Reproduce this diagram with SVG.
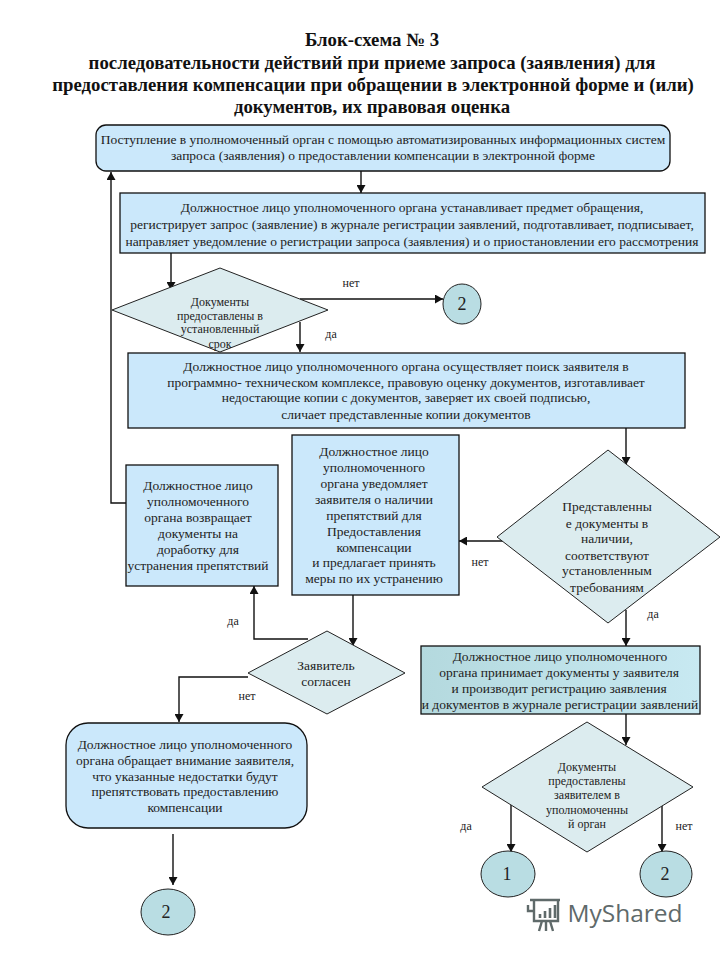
<svg xmlns="http://www.w3.org/2000/svg" width="720" height="960" viewBox="0 0 720 960">
<style>
text{font-family:"Liberation Serif","Times New Roman",serif;fill:#222;text-anchor:middle;font-size:13.5px}
.t{font-weight:bold;font-size:18.8px;fill:#111}
.box{fill:#cbe8fb;stroke:#111;stroke-width:1.3}
.dia{fill:#dcecef;stroke:#222;stroke-width:1}
.cir{fill:#b9dde3;stroke:#222;stroke-width:1}
.n{font-size:18px}
.c{fill:none;stroke:#111;stroke-width:1.4;marker-end:url(#a)}
.l{font-size:12px}
.e{font-size:12px}
</style>
<defs>
<marker id="a" markerUnits="userSpaceOnUse" markerWidth="9" markerHeight="9" refX="8" refY="4.5" orient="auto"><path d="M0 0L8 4.5L0 9z" fill="#111"/></marker>
<linearGradient id="g" x1="0" x2="1" y1="0" y2="0"><stop offset="0" stop-color="#b4d9de"/><stop offset="1" stop-color="#c8e9f2"/></linearGradient>
</defs>
<rect width="720" height="960" fill="#fff"/>
<g id="title">
<text class="t" x="372" y="46">Блок-схема № 3</text>
<text class="t" x="372" y="69">последовательности действий при приеме запроса (заявления) для</text>
<text class="t" x="373" y="91">предоставления компенсации  при обращении в электронной форме и (или)</text>
<text class="t" x="372" y="113">документов, их правовая оценка</text>
</g>
<g id="connectors">
<path class="c" d="M361 171V193"/>
<path class="c" d="M171 253V290"/>
<path class="c" d="M300 299H443"/>
<path class="c" d="M300 322V352"/>
<path class="c" d="M126 503H111V172"/>
<path class="c" d="M626 428V465"/>
<path class="c" d="M503 541H459"/>
<path class="c" d="M626 610V646"/>
<path class="c" d="M626 714V745"/>
<path class="c" d="M353 595V646"/>
<path class="c" d="M308 639H254V586"/>
<path class="c" d="M248 677H179V722"/>
<path class="c" d="M173 834V885"/>
<path class="c" d="M511 805V852"/>
<path class="c" d="M662 805V852"/>
</g>
<g id="n1"><rect class="box" x="96" y="125" width="574" height="46" rx="10"/>
<text x="383" y="144">Поступление в уполномоченный орган с помощью  автоматизированных информационных систем</text>
<text x="383" y="160">запроса (заявления) о предоставлении компенсации в электронной форме</text></g>
<g id="n2"><rect class="box" x="120" y="193" width="585" height="60"/>
<text x="412" y="212">Должностное лицо уполномоченного органа устанавливает предмет обращения,</text>
<text x="412" y="229">регистрирует запрос (заявление) в журнале регистрации заявлений, подготавливает, подписывает,</text>
<text x="412" y="246">направляет уведомление о регистрации запроса (заявления)  и о приостановлении его рассмотрения</text></g>
<g id="d1"><path class="dia" d="M112 310L220 268L328 310L220 352z"/>
<text x="220" y="306" class="l">Документы</text>
<text x="220" y="320" class="l">предоставлены  в</text>
<text x="220" y="333" class="l">установленный</text>
<text x="220" y="348" class="l">срок</text></g>
<g id="n3"><rect class="box" x="128" y="353" width="557" height="75"/>
<text x="406" y="371">Должностное лицо уполномоченного органа осуществляет поиск заявителя в</text>
<text x="406" y="387">программно- техническом комплексе, правовую оценку документов, изготавливает</text>
<text x="406" y="402">недостающие копии с документов, заверяет их  своей подписью,</text>
<text x="406" y="419">сличает представленные  копии документов</text></g>
<g id="c2a"><ellipse class="cir" cx="462" cy="304" rx="19" ry="20"/><text class="n" x="462" y="310">2</text></g>
<g id="n4"><rect class="box" x="126" y="465" width="152" height="121"/>
<text x="198" y="490">Должностное лицо</text>
<text x="198" y="506">уполномоченного</text>
<text x="198" y="522">органа возвращает</text>
<text x="198" y="538">документы на</text>
<text x="198" y="554">доработку  для</text>
<text x="198" y="570">устранения  препятствий</text></g>
<g id="n5"><rect class="box" x="292" y="435" width="167" height="160"/>
<text x="374" y="456">Должностное лицо</text>
<text x="374" y="472">уполномоченного</text>
<text x="374" y="488">органа уведомляет</text>
<text x="374" y="504">заявителя о наличии</text>
<text x="374" y="520">препятствий для</text>
<text x="374" y="536">Предоставления</text>
<text x="374" y="552">компенсации</text>
<text x="374" y="567">и предлагает принять</text>
<text x="374" y="583">меры по  их устранению</text></g>
<g id="d2"><path class="dia" d="M497 537L608 450L720 537L608 623z"/>
<text x="607" y="511">Представленны</text>
<text x="607" y="528">е документы в</text>
<text x="607" y="543">наличии,</text>
<text x="607" y="560">соответствуют</text>
<text x="607" y="575">установленным</text>
<text x="607" y="592">требованиям</text></g>
<g id="n6"><rect x="421" y="646" width="279" height="68" fill="url(#g)" stroke="#111" stroke-width="1.3"/>
<text x="560" y="661">Должностное лицо уполномоченного</text>
<text x="559" y="677">органа принимает документы у заявителя</text>
<text x="559" y="693">и производит  регистрацию заявления</text>
<text x="560" y="709">и документов в журнале регистрации  заявлений</text></g>
<g id="d3"><path class="dia" d="M248 673L327 631L405 673L327 714z"/>
<text x="326" y="670">Заявитель</text>
<text x="326" y="686">согласен</text></g>
<g id="n7"><rect class="box" x="66" y="723" width="241" height="105" rx="22"/>
<text x="185" y="749">Должностное лицо уполномоченного</text>
<text x="185" y="765">органа обращает  внимание заявителя,</text>
<text x="185" y="781">что указанные недостатки будут</text>
<text x="185" y="796">препятствовать предоставлению</text>
<text x="185" y="812">компенсации</text></g>
<g id="d4"><path class="dia" d="M482 787L587 722L693 787L587 852z"/>
<text x="587" y="771" class="l">Документы</text>
<text x="587" y="785" class="l">предоставлены</text>
<text x="587" y="799" class="l">заявителем в</text>
<text x="587" y="814" class="l">уполномоченны</text>
<text x="587" y="828" class="l">й орган</text></g>
<g id="c1"><ellipse class="cir" cx="508" cy="874" rx="27" ry="23"/><text class="n" x="507" y="880">1</text></g>
<g id="c2b"><ellipse class="cir" cx="666" cy="874" rx="26" ry="23"/><text class="n" x="665" y="880">2</text></g>
<g id="c2c"><ellipse class="cir" cx="168" cy="912" rx="27" ry="23"/><text class="n" x="166" y="918">2</text></g>
<g id="labels">
<text class="e" x="351" y="287">нет</text>
<text class="e" x="331" y="338">да</text>
<text class="e" x="480" y="566">нет</text>
<text class="e" x="653" y="618">да</text>
<text class="e" x="233" y="625">да</text>
<text class="e" x="247" y="700">нет</text>
<text class="e" x="466" y="830">да</text>
<text class="e" x="684" y="830">нет</text>
</g>
<g id="watermark" fill="none" stroke="#5f6a6a" stroke-width="2.4">
<path d="M530 900H560M534 900V921H558V900M528 905V911H534M539 931L542 921M553 931L550 921M546 921V931"/>
<path d="M540 918V914M545 918V911M550 918V908M555 918V905" stroke-width="2.6"/>
<text x="625" y="922" style="font-family:'Open Sans','Noto Sans',sans-serif;font-size:24.5px;fill:#5f6a6a;stroke:none">MyShared</text>
</g>
</svg>
